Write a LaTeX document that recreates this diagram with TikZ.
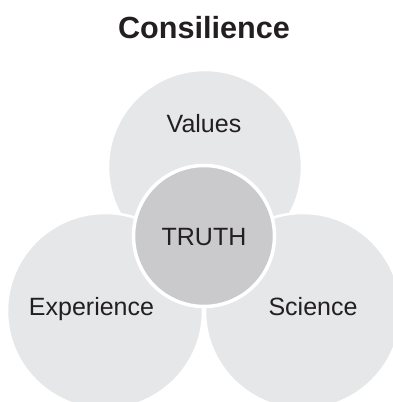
\documentclass[tikz,border=0pt]{standalone}
\usepackage{fontspec}
\setmainfont{Liberation Sans}
\usepackage{xcolor}

\definecolor{ringgray}{RGB}{230,231,232}
\definecolor{coregray}{RGB}{202,202,204}
\definecolor{inkblack}{RGB}{35,31,32}

\begin{document}
\begin{tikzpicture}[x=1pt, y=1pt,
    ring/.style={fill=ringgray, draw=white, line width=2.5pt},
    core/.style={fill=coregray, draw=white, line width=3.5pt},
    word/.style={font=\fontsize{25}{30}\selectfont, text=inkblack, anchor=base, inner sep=0pt}]
\useasboundingbox (0,0) rectangle (393,402);
\clip (0,0) rectangle (393,402);

% Title
\node[font=\fontsize{30.6}{36}\selectfont\bfseries, text=inkblack, anchor=base, inner sep=0pt]
    (title) at (204,363) {Consilience};

% Three overlapping circles, top one first
\filldraw[ring] (205,235) circle (97pt);
\filldraw[ring] (105,91) circle (98pt);
\filldraw[ring] (303,91) circle (98pt);

% Centre circle on top
\filldraw[core] (204,166) circle (70.5pt);

% Labels
\node[word] (values) at (204,269) {Values};
\node[word] (experience) at (91.5,86) {Experience};
\node[word] (science) at (313,86) {Science};
\node[word] (truth) at (204,156) {TRUTH};
\end{tikzpicture}
\end{document}
